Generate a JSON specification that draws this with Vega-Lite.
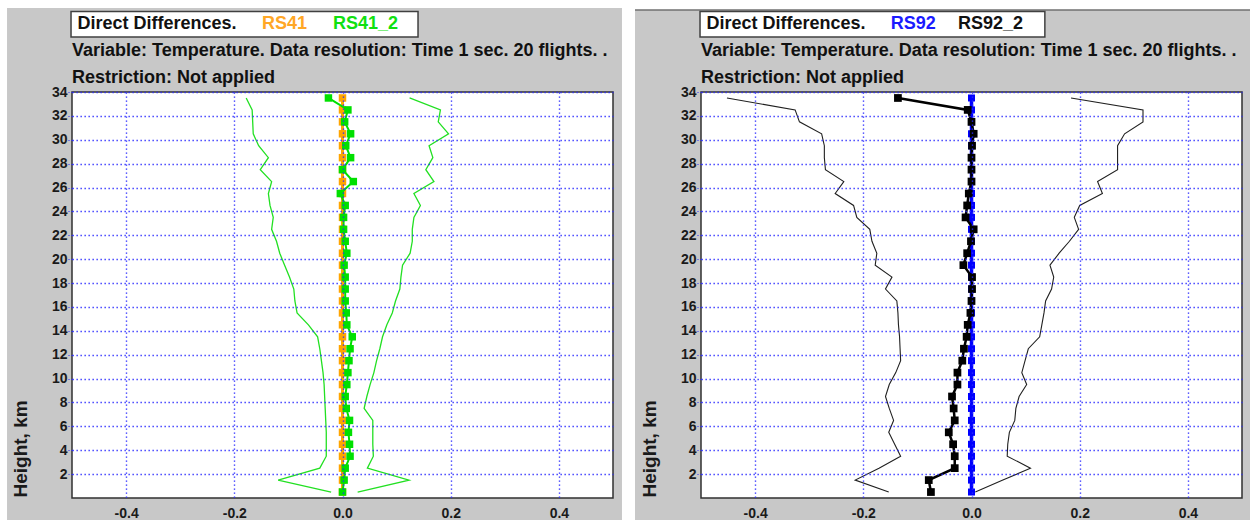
{
  "$schema": "https://vega.github.io/schema/vega-lite/v6.json",
  "background": "white",
  "padding": {"left": 7, "top": 8, "right": 0, "bottom": 0},
  "config": {
    "view": {"stroke": null},
    "axis": {
      "grid": true, "gridColor": "#2a2aff", "gridDash": [1.3, 2.7], "gridWidth": 1.4, "gridOpacity": 1,
      "domain": false, "labelOverlap": false,
      "labelFont": "Liberation Sans", "labelFontWeight": "bold", "labelFontSize": 14, "labelColor": "#1a1a1a",
      "titleFont": "Liberation Sans", "titleFontWeight": "bold", "titleFontSize": 19, "titleColor": "#1a1a1a"
    },
    "axisX": {"ticks": false, "tickSize": 0, "labelPadding": 8, "tickCount": 20},
    "axisY": {"tickSize": 4, "tickColor": "#2a2aff", "tickDash": [1, 2], "labelPadding": 1, "tickCount": 40,
      "titleX": -51.5, "titleY": 405, "titleAlign": "left", "titleAngle": -90, "titleBaseline": "middle"}
  },
  "datasets": {
    "left": [
      {"h": 0.5, "ref": 0, "mean": 0.0, "lo": -0.021, "hi": 0.028},
      {"h": 1.5, "ref": 0, "mean": 0.003, "lo": -0.119, "hi": 0.123},
      {"h": 2.5, "ref": 0, "mean": 0.005, "lo": -0.042, "hi": 0.046},
      {"h": 3.5, "ref": 0, "mean": 0.014, "lo": -0.030, "hi": 0.057},
      {"h": 4.5, "ref": 0, "mean": 0.013, "lo": -0.030, "hi": 0.056},
      {"h": 5.5, "ref": 0, "mean": 0.011, "lo": -0.030, "hi": 0.056},
      {"h": 6.5, "ref": 0, "mean": 0.013, "lo": -0.031, "hi": 0.056},
      {"h": 7.5, "ref": 0, "mean": 0.007, "lo": -0.032, "hi": 0.040},
      {"h": 8.5, "ref": 0, "mean": 0.005, "lo": -0.033, "hi": 0.045},
      {"h": 9.5, "ref": 0, "mean": 0.008, "lo": -0.034, "hi": 0.051},
      {"h": 10.5, "ref": 0, "mean": 0.010, "lo": -0.036, "hi": 0.058},
      {"h": 11.5, "ref": 0, "mean": 0.012, "lo": -0.039, "hi": 0.063},
      {"h": 12.5, "ref": 0, "mean": 0.014, "lo": -0.042, "hi": 0.069},
      {"h": 13.5, "ref": 0, "mean": 0.018, "lo": -0.046, "hi": 0.074},
      {"h": 14.5, "ref": 0, "mean": 0.008, "lo": -0.063, "hi": 0.082},
      {"h": 15.5, "ref": 0, "mean": 0.007, "lo": -0.084, "hi": 0.092},
      {"h": 16.5, "ref": 0, "mean": 0.005, "lo": -0.088, "hi": 0.098},
      {"h": 17.5, "ref": 0, "mean": 0.005, "lo": -0.090, "hi": 0.106},
      {"h": 18.5, "ref": 0, "mean": 0.005, "lo": -0.098, "hi": 0.108},
      {"h": 19.5, "ref": 0, "mean": 0.003, "lo": -0.107, "hi": 0.111},
      {"h": 20.5, "ref": 0, "mean": 0.008, "lo": -0.116, "hi": 0.125},
      {"h": 21.5, "ref": 0, "mean": 0.005, "lo": -0.122, "hi": 0.129},
      {"h": 22.5, "ref": 0, "mean": 0.002, "lo": -0.131, "hi": 0.129},
      {"h": 23.5, "ref": 0, "mean": 0.002, "lo": -0.128, "hi": 0.132},
      {"h": 24.5, "ref": 0, "mean": 0.005, "lo": -0.134, "hi": 0.144},
      {"h": 25.5, "ref": 0, "mean": -0.004, "lo": -0.137, "hi": 0.132},
      {"h": 26.5, "ref": 0, "mean": 0.020, "lo": -0.131, "hi": 0.169},
      {"h": 27.5, "ref": 0, "mean": 0.0, "lo": -0.152, "hi": 0.154},
      {"h": 28.5, "ref": 0, "mean": 0.015, "lo": -0.137, "hi": 0.167},
      {"h": 29.5, "ref": 0, "mean": 0.006, "lo": -0.155, "hi": 0.160},
      {"h": 30.5, "ref": 0, "mean": 0.015, "lo": -0.165, "hi": 0.196},
      {"h": 31.5, "ref": 0, "mean": 0.004, "lo": -0.166, "hi": 0.177},
      {"h": 32.5, "ref": 0, "mean": 0.010, "lo": -0.167, "hi": 0.181},
      {"h": 33.5, "ref": 0, "mean": -0.026, "lo": -0.178, "hi": 0.124}
    ],
    "right": [
      {"h": 0.5, "ref": 0, "mean": -0.075, "lo": -0.153, "hi": 0.007},
      {"h": 1.5, "ref": 0, "mean": -0.079, "lo": -0.215, "hi": 0.058},
      {"h": 2.5, "ref": 0, "mean": -0.031, "lo": -0.171, "hi": 0.109},
      {"h": 3.5, "ref": 0, "mean": -0.031, "lo": -0.131, "hi": 0.066},
      {"h": 4.5, "ref": 0, "mean": -0.034, "lo": -0.142, "hi": 0.067},
      {"h": 5.5, "ref": 0, "mean": -0.042, "lo": -0.153, "hi": 0.070},
      {"h": 6.5, "ref": 0, "mean": -0.031, "lo": -0.144, "hi": 0.080},
      {"h": 7.5, "ref": 0, "mean": -0.033, "lo": -0.152, "hi": 0.082},
      {"h": 8.5, "ref": 0, "mean": -0.036, "lo": -0.159, "hi": 0.088},
      {"h": 9.5, "ref": 0, "mean": -0.026, "lo": -0.152, "hi": 0.102},
      {"h": 10.5, "ref": 0, "mean": -0.026, "lo": -0.140, "hi": 0.093},
      {"h": 11.5, "ref": 0, "mean": -0.017, "lo": -0.131, "hi": 0.099},
      {"h": 12.5, "ref": 0, "mean": -0.014, "lo": -0.132, "hi": 0.105},
      {"h": 13.5, "ref": 0, "mean": -0.009, "lo": -0.133, "hi": 0.126},
      {"h": 14.5, "ref": 0, "mean": -0.007, "lo": -0.135, "hi": 0.130},
      {"h": 15.5, "ref": 0, "mean": -0.002, "lo": -0.136, "hi": 0.134},
      {"h": 16.5, "ref": 0, "mean": 0.0, "lo": -0.138, "hi": 0.137},
      {"h": 17.5, "ref": 0, "mean": 0.001, "lo": -0.159, "hi": 0.148},
      {"h": 18.5, "ref": 0, "mean": 0.001, "lo": -0.147, "hi": 0.152},
      {"h": 19.5, "ref": 0, "mean": -0.015, "lo": -0.178, "hi": 0.145},
      {"h": 20.5, "ref": 0, "mean": -0.008, "lo": -0.175, "hi": 0.162},
      {"h": 21.5, "ref": 0, "mean": -0.001, "lo": -0.184, "hi": 0.181},
      {"h": 22.5, "ref": 0, "mean": 0.004, "lo": -0.188, "hi": 0.198},
      {"h": 23.5, "ref": 0, "mean": -0.011, "lo": -0.212, "hi": 0.190},
      {"h": 24.5, "ref": 0, "mean": -0.008, "lo": -0.218, "hi": 0.200},
      {"h": 25.5, "ref": 0, "mean": -0.005, "lo": -0.252, "hi": 0.242},
      {"h": 26.5, "ref": 0, "mean": 0.0, "lo": -0.236, "hi": 0.233},
      {"h": 27.5, "ref": 0, "mean": 0.0, "lo": -0.270, "hi": 0.270},
      {"h": 28.5, "ref": 0, "mean": 0.0, "lo": -0.272, "hi": 0.270},
      {"h": 29.5, "ref": 0, "mean": 0.001, "lo": -0.272, "hi": 0.270},
      {"h": 30.5, "ref": 0, "mean": 0.004, "lo": -0.277, "hi": 0.283},
      {"h": 31.5, "ref": 0, "mean": 0.0, "lo": -0.318, "hi": 0.317},
      {"h": 32.5, "ref": 0, "mean": -0.007, "lo": -0.326, "hi": 0.317},
      {"h": 33.5, "ref": 0, "mean": -0.136, "lo": -0.452, "hi": 0.184}
    ]
  },
  "hconcat": [
    {
      "width": 541, "height": 406,
      "layer": [
        {"data": {"values": [{}]}, "mark": {"type": "rect", "fill": "#c8c8c8"},
          "encoding": {
            "x": {"datum": -0.6201, "type": "quantitative", "scale": {"domain": [-0.5, 0.5], "nice": false, "zero": false},
              "axis": {"values": [-0.4, -0.2, 0, 0.2, 0.4], "title": null, "tickCount": 20, "labelExpr": "replace(format(datum.value, '.1f'), '\u2212', '-')", "zindex": 1}},
            "x2": {"datum": 0.5166},
            "y": {"datum": 41.03, "type": "quantitative", "scale": {"domain": [0, 34], "nice": false},
              "axis": {"values": [2, 4, 6, 8, 10, 12, 14, 16, 18, 20, 22, 24, 26, 28, 30, 32, 34], "tickCount": 40, "title": "Height, km", "zindex": 1}},
            "y2": {"datum": -1.842}}},
        {"data": {"values": [{}]}, "mark": {"type": "rect", "fill": "white", "stroke": "#303030", "strokeWidth": 1.5},
          "encoding": {"x": {"datum": -0.5, "type": "quantitative"}, "x2": {"datum": 0.5}, "y": {"datum": 34, "type": "quantitative"}, "y2": {"datum": 0}}},
        {"data": {"values": [{}]}, "mark": {"type": "rect", "fill": "white", "stroke": "#404040", "strokeWidth": 1.5},
          "encoding": {"x": {"datum": -0.5018, "type": "quantitative"}, "x2": {"datum": 0.1396}, "y": {"datum": 40.741, "type": "quantitative"}, "y2": {"datum": 38.606}}},
        {"data": {"values": [{}]}, "mark": {"type": "text", "align": "left", "baseline": "middle", "font": "Liberation Sans", "fontWeight": "bold", "fontSize": 18, "color": "#111111"},
          "encoding": {"x": {"datum": -0.4898, "type": "quantitative"}, "y": {"datum": 39.674, "type": "quantitative"}, "text": {"value": "Direct Differences."}}},
        {"data": {"values": [{}]}, "mark": {"type": "text", "align": "left", "baseline": "middle", "font": "Liberation Sans", "fontWeight": "bold", "fontSize": 18, "color": "#ffa726"},
          "encoding": {"x": {"datum": -0.1488, "type": "quantitative"}, "y": {"datum": 39.674, "type": "quantitative"}, "text": {"value": "RS41"}}},
        {"data": {"values": [{}]}, "mark": {"type": "text", "align": "left", "baseline": "middle", "font": "Liberation Sans", "fontWeight": "bold", "fontSize": 18, "color": "#10e010"},
          "encoding": {"x": {"datum": -0.0176, "type": "quantitative"}, "y": {"datum": 39.674, "type": "quantitative"}, "text": {"value": "RS41_2"}}},
        {"data": {"values": [{}]}, "mark": {"type": "text", "align": "left", "baseline": "middle", "font": "Liberation Sans", "fontWeight": "bold", "fontSize": 18, "color": "#111111"},
          "encoding": {"x": {"datum": -0.5, "type": "quantitative"}, "y": {"datum": 37.45, "type": "quantitative"}, "text": {"value": "Variable: Temperature. Data resolution: Time 1 sec. 20 flights. ."}}},
        {"data": {"values": [{}]}, "mark": {"type": "text", "align": "left", "baseline": "middle", "font": "Liberation Sans", "fontWeight": "bold", "fontSize": 18, "color": "#111111"},
          "encoding": {"x": {"datum": -0.5, "type": "quantitative"}, "y": {"datum": 35.172, "type": "quantitative"}, "text": {"value": "Restriction: Not applied"}}},
        {"data": {"name": "left"}, "mark": {"type": "line", "color": "#22e022", "strokeWidth": 1.3},
          "encoding": {"x": {"field": "lo", "type": "quantitative"}, "y": {"field": "h", "type": "quantitative"}, "order": {"field": "h"}}},
        {"data": {"name": "left"}, "mark": {"type": "line", "color": "#22e022", "strokeWidth": 1.3},
          "encoding": {"x": {"field": "hi", "type": "quantitative"}, "y": {"field": "h", "type": "quantitative"}, "order": {"field": "h"}}},
        {"data": {"name": "left"}, "mark": {"type": "line", "color": "#ffa500", "strokeWidth": 3},
          "encoding": {"x": {"field": "ref", "type": "quantitative"}, "y": {"field": "h", "type": "quantitative"}, "order": {"field": "h"}}},
        {"data": {"name": "left"}, "mark": {"type": "point", "shape": "square", "filled": true, "size": 56, "color": "#ffa500", "opacity": 1},
          "encoding": {"x": {"field": "ref", "type": "quantitative"}, "y": {"field": "h", "type": "quantitative"}}},
        {"data": {"name": "left"}, "mark": {"type": "line", "color": "#00e000", "strokeWidth": 2},
          "encoding": {"x": {"field": "mean", "type": "quantitative"}, "y": {"field": "h", "type": "quantitative"}, "order": {"field": "h"}}},
        {"data": {"name": "left"}, "mark": {"type": "point", "shape": "square", "filled": true, "size": 56, "color": "#00e000", "opacity": 1},
          "encoding": {"x": {"field": "mean", "type": "quantitative"}, "y": {"field": "h", "type": "quantitative"}}}
      ]
    },
    {
      "width": 541, "height": 406,
      "layer": [
        {"data": {"values": [{}]}, "mark": {"type": "rect", "fill": "#c8c8c8"},
          "encoding": {
            "x": {"datum": -0.622, "type": "quantitative", "scale": {"domain": [-0.5, 0.5], "nice": false, "zero": false},
              "axis": {"values": [-0.4, -0.2, 0, 0.2, 0.4], "title": null, "tickCount": 20, "labelExpr": "replace(format(datum.value, '.1f'), '\u2212', '-')", "zindex": 1}},
            "x2": {"datum": 0.5148},
            "y": {"datum": 40.867, "type": "quantitative", "scale": {"domain": [0, 34], "nice": false},
              "axis": {"values": [2, 4, 6, 8, 10, 12, 14, 16, 18, 20, 22, 24, 26, 28, 30, 32, 34], "tickCount": 40, "title": "Height, km", "zindex": 1}},
            "y2": {"datum": -1.842}}},
        {"data": {"values": [{}]}, "mark": {"type": "rule", "color": "#707070", "strokeWidth": 1.5},
          "encoding": {"x": {"datum": -0.622, "type": "quantitative"}, "x2": {"datum": 0.5148}, "y": {"datum": 40.867, "type": "quantitative"}}},
        {"data": {"values": [{}]}, "mark": {"type": "rect", "fill": "white", "stroke": "#303030", "strokeWidth": 1.5},
          "encoding": {"x": {"datum": -0.5, "type": "quantitative"}, "x2": {"datum": 0.5}, "y": {"datum": 34, "type": "quantitative"}, "y2": {"datum": 0}}},
        {"data": {"values": [{}]}, "mark": {"type": "rect", "fill": "white", "stroke": "#404040", "strokeWidth": 1.5},
          "encoding": {"x": {"datum": -0.5018, "type": "quantitative"}, "x2": {"datum": 0.1356}, "y": {"datum": 40.741, "type": "quantitative"}, "y2": {"datum": 38.606}}},
        {"data": {"values": [{}]}, "mark": {"type": "text", "align": "left", "baseline": "middle", "font": "Liberation Sans", "fontWeight": "bold", "fontSize": 18, "color": "#111111"},
          "encoding": {"x": {"datum": -0.4898, "type": "quantitative"}, "y": {"datum": 39.674, "type": "quantitative"}, "text": {"value": "Direct Differences."}}},
        {"data": {"values": [{}]}, "mark": {"type": "text", "align": "left", "baseline": "middle", "font": "Liberation Sans", "fontWeight": "bold", "fontSize": 18, "color": "#1a1aff"},
          "encoding": {"x": {"datum": -0.1494, "type": "quantitative"}, "y": {"datum": 39.674, "type": "quantitative"}, "text": {"value": "RS92"}}},
        {"data": {"values": [{}]}, "mark": {"type": "text", "align": "left", "baseline": "middle", "font": "Liberation Sans", "fontWeight": "bold", "fontSize": 18, "color": "#111111"},
          "encoding": {"x": {"datum": -0.025, "type": "quantitative"}, "y": {"datum": 39.674, "type": "quantitative"}, "text": {"value": "RS92_2"}}},
        {"data": {"values": [{}]}, "mark": {"type": "text", "align": "left", "baseline": "middle", "font": "Liberation Sans", "fontWeight": "bold", "fontSize": 18, "color": "#111111"},
          "encoding": {"x": {"datum": -0.5, "type": "quantitative"}, "y": {"datum": 37.45, "type": "quantitative"}, "text": {"value": "Variable: Temperature. Data resolution: Time 1 sec. 20 flights. ."}}},
        {"data": {"values": [{}]}, "mark": {"type": "text", "align": "left", "baseline": "middle", "font": "Liberation Sans", "fontWeight": "bold", "fontSize": 18, "color": "#111111"},
          "encoding": {"x": {"datum": -0.5, "type": "quantitative"}, "y": {"datum": 35.172, "type": "quantitative"}, "text": {"value": "Restriction: Not applied"}}},
        {"data": {"name": "right"}, "mark": {"type": "line", "color": "#202020", "strokeWidth": 1.1},
          "encoding": {"x": {"field": "lo", "type": "quantitative"}, "y": {"field": "h", "type": "quantitative"}, "order": {"field": "h"}}},
        {"data": {"name": "right"}, "mark": {"type": "line", "color": "#202020", "strokeWidth": 1.1},
          "encoding": {"x": {"field": "hi", "type": "quantitative"}, "y": {"field": "h", "type": "quantitative"}, "order": {"field": "h"}}},
        {"data": {"name": "right"}, "mark": {"type": "line", "color": "#0000ff", "strokeWidth": 3.5},
          "encoding": {"x": {"field": "ref", "type": "quantitative"}, "y": {"field": "h", "type": "quantitative"}, "order": {"field": "h"}}},
        {"data": {"name": "right"}, "mark": {"type": "point", "shape": "square", "filled": true, "size": 49, "color": "#0000ff", "opacity": 1},
          "encoding": {"x": {"field": "ref", "type": "quantitative"}, "y": {"field": "h", "type": "quantitative"}}},
        {"data": {"name": "right"}, "mark": {"type": "line", "color": "#000000", "strokeWidth": 2.5},
          "encoding": {"x": {"field": "mean", "type": "quantitative"}, "y": {"field": "h", "type": "quantitative"}, "order": {"field": "h"}}},
        {"data": {"name": "right"}, "mark": {"type": "point", "shape": "square", "filled": true, "size": 60, "color": "#000000", "opacity": 1},
          "encoding": {"x": {"field": "mean", "type": "quantitative"}, "y": {"field": "h", "type": "quantitative"}}}
      ]
    }
  ],
  "spacing": 88,
  "bounds": "flush"
}
